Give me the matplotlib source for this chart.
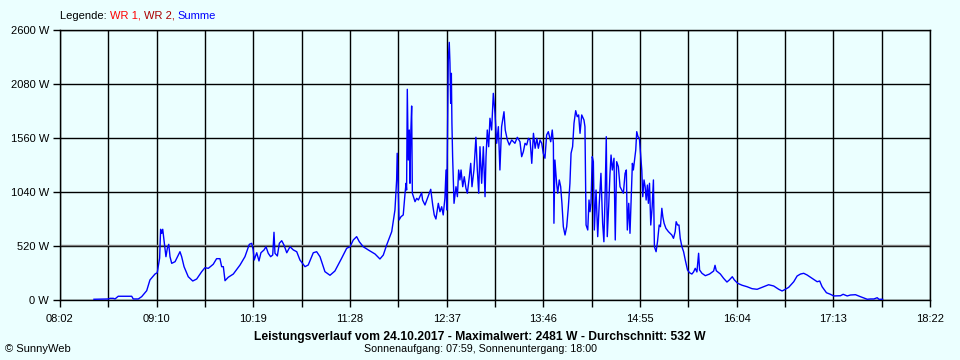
"""
plot.py
Daily power curve (SunnyWeb style) for 24.10.2017.
"""
import matplotlib
matplotlib.use("Agg")
from matplotlib import pyplot as plt

# time axis in minutes after midnight, power in W
minutes = [
    506.2, 516.4, 517.6, 520.0, 521.2, 523.5, 533.1, 534.2, 537.8, 540.2,
    543.8, 546.1, 549.7, 551.3, 553.0, 553.7, 554.5, 555.2, 556.1, 557.5,
    558.5, 559.5, 560.4, 561.6, 564.0, 567.5, 568.7, 570.4, 573.4, 576.6,
    579.4, 583.0, 585.3, 587.7, 591.2, 593.6, 596.0, 597.2, 598.4, 599.6,
    601.9, 605.5, 610.3, 613.8, 616.9, 618.6, 619.7, 620.4, 622.2, 623.8,
    625.2, 627.4, 628.8, 630.4, 632.1, 633.6, 634.5, 635.2, 636.9, 638.3,
    640.0, 641.6, 643.6, 645.9, 648.3, 650.7, 653.0, 656.6, 658.9, 662.5,
    664.9, 667.3, 670.8, 674.4, 677.9, 682.7, 686.3, 688.7, 691.0, 693.4,
    695.3, 698.1, 701.7, 706.5, 710.0, 712.4, 714.8, 718.4, 720.7, 721.9,
    722.3, 722.9, 723.6, 725.0, 726.6, 727.9, 728.6, 729.0, 729.5, 730.2,
    730.9, 731.4, 731.9, 732.6, 733.1, 735.0, 736.2, 737.4, 739.7, 740.4,
    742.1, 744.5, 746.2, 747.6, 748.7, 749.9, 751.6, 752.8, 754.0, 755.1,
    756.3, 757.1, 757.6, 758.3, 758.7, 759.4, 759.9, 760.4, 760.9, 761.3,
    761.8, 762.8, 764.2, 765.2, 766.1, 767.0, 767.8, 769.0, 770.1, 771.3,
    772.3, 773.7, 774.7, 775.6, 777.0, 778.4, 779.4, 780.4, 781.3, 782.5,
    783.7, 784.9, 785.6, 786.5, 787.5, 788.4, 789.6, 790.8, 792.0, 793.2,
    794.4, 795.5, 796.7, 798.4, 799.3, 800.8, 802.2, 803.9, 806.2, 807.9,
    809.8, 811.0, 812.2, 813.4, 814.6, 815.8, 817.0, 818.2, 819.4, 820.6,
    821.8, 822.9, 824.1, 825.3, 826.4, 827.6, 828.8, 830.0, 831.7, 832.8,
    833.6, 834.0, 834.7, 835.9, 836.7, 837.8, 838.8, 839.7, 840.7, 841.9,
    843.1, 844.2, 845.4, 846.2, 847.3, 848.3, 849.5, 850.6, 851.6, 852.6,
    853.8, 855.4, 856.1, 856.9, 858.1, 859.0, 859.7, 860.4, 861.3, 862.1,
    862.8, 864.0, 865.2, 866.3, 867.5, 868.7, 869.6, 870.6, 871.3, 872.0,
    873.0, 873.9, 874.7, 875.6, 876.8, 877.7, 878.7, 879.9, 881.1, 882.3,
    883.5, 884.7, 885.6, 886.3, 887.3, 888.2, 889.2, 889.9, 890.6, 891.3,
    892.3, 893.0, 893.9, 894.9, 895.9, 896.6, 897.3, 898.2, 899.0, 899.7,
    900.6, 901.3, 902.1, 903.0, 904.0, 904.9, 905.6, 906.8, 907.8, 909.0,
    909.9, 910.9, 911.6, 912.5, 913.8, 915.6, 916.8, 918.0, 919.2, 920.4,
    921.1, 922.1, 923.1, 924.0, 925.2, 926.4, 927.6, 929.2, 930.6, 932.3,
    933.5, 934.7, 935.9, 937.1, 937.8, 939.5, 941.9, 944.9, 947.8, 948.8,
    949.7, 952.6, 954.9, 957.3, 959.0, 961.1, 962.6, 964.9, 968.1, 971.6,
    975.2, 978.8, 982.3, 987.0, 990.6, 994.2, 996.6, 998.9, 1001.3, 1004.9,
    1007.3, 1009.7, 1012.0, 1014.4, 1018.0, 1021.6, 1023.4, 1025.1, 1028.2, 1031.0,
    1033.4, 1038.2, 1040.1, 1043.0, 1045.3, 1048.9, 1052.4, 1057.3, 1059.6, 1062.0,
    1064.4, 1065.6, 1068.2,
]
summe_w = [
    7, 10, 16, 16, 10, 36, 36, 10, 10, 32,
    90, 193, 250, 263, 404, 681, 642, 681, 578, 417,
    498, 536, 417, 353, 369, 465, 417, 321, 224, 183,
    202, 273, 311, 305, 344, 398, 398, 321, 321, 186,
    219, 250, 337, 417, 536, 546, 482, 385, 455, 376,
    455, 482, 513, 450, 417, 433, 652, 450, 424, 546,
    571, 530, 455, 513, 482, 465, 385, 321, 337, 455,
    465, 417, 273, 238, 279, 402, 498, 513, 578, 610,
    561, 513, 482, 443, 395, 433, 530, 658, 867, 1156,
    1413, 1156, 770, 802, 819, 1028, 1124, 1059, 2029, 1348,
    1637, 1124, 1573, 1868, 1028, 947, 979, 963, 1033, 963,
    915, 1002, 1066, 915, 819, 780, 931, 850, 898, 819,
    979, 1252, 867, 1765, 2311, 2481, 2280, 1894, 2183, 1702,
    1380, 931, 1091, 995, 1252, 1156, 1252, 1091, 1187, 1076,
    1028, 1187, 1316, 1091, 1252, 1567, 1252, 1028, 1476, 1124,
    1476, 995, 1380, 1637, 1476, 1750, 1637, 1990, 1798, 1509,
    1669, 1252, 1669, 1813, 1637, 1541, 1493, 1541, 1509, 1567,
    1524, 1380, 1428, 1509, 1493, 1557, 1541, 1316, 1605, 1461,
    1557, 1461, 1541, 1509, 1413, 1365, 1589, 1621, 1524, 1637,
    1509, 739, 1348, 1124, 1028, 1156, 1091, 931, 706, 626,
    706, 883, 1124, 1413, 1476, 1702, 1823, 1765, 1782, 1605,
    1782, 1733, 1669, 722, 674, 963, 850, 931, 1380, 1332,
    674, 1059, 610, 931, 1220, 739, 561, 1091, 1573, 610,
    898, 1204, 1396, 1252, 1365, 578, 1332, 1284, 1091, 1059,
    1028, 1220, 1252, 674, 931, 642, 1028, 1316, 1252, 1332,
    1444, 1621, 1573, 1557, 1380, 1252, 995, 1156, 1091, 963,
    1107, 931, 1124, 722, 898, 1156, 513, 465, 561, 722,
    706, 883, 802, 739, 690, 658, 642, 626, 594, 658,
    754, 722, 722, 594, 513, 465, 385, 289, 263, 250,
    270, 305, 270, 450, 289, 257, 234, 250, 279, 334,
    282, 250, 209, 173, 193, 224, 193, 161, 142, 128,
    109, 103, 122, 147, 135, 103, 87, 103, 122, 176,
    231, 250, 257, 241, 209, 176, 183, 128, 70, 55,
    39, 41, 55, 39, 48, 51, 32, 7, 10, 10,
    22, 7, 7,
]

x_labels = ["08:02", "09:10", "10:19", "11:28", "12:37",
            "13:46", "14:55", "16:04", "17:13", "18:22"]
y_ticks = [0, 520, 1040, 1560, 2080, 2600]

t_start = 482   # 08:02
t_end = 1102    # 18:22
max_w = 2481
avg_w = 532
day = "24.10.2017"
sunrise = "07:59"
sunset = "18:00"

BG = "#ebffff"
FONT = ["Liberation Sans", "DejaVu Sans"]


def plot_curve():
    """
    Draws the power curve with the SunnyWeb look and saves out.png.
    """
    plt.rcParams["font.family"] = FONT
    plt.rcParams["font.size"] = 8

    fig = plt.figure(figsize=(9.6, 3.6), dpi=100, facecolor=BG)
    ax = fig.add_axes([60 / 960, 60 / 360, 870 / 960, 270 / 360])
    ax.set_facecolor(BG)

    # grid: vertical lines every half label step, horizontal per y tick
    step = (t_end - t_start) / 18
    for k in range(19):
        ax.axvline(t_start + k * step, color="black", lw=1.0, zorder=1)
    for v in y_ticks:
        ax.axhline(v, color="black", lw=1.0, zorder=1)
    # average line sits just above the 520 W grid line
    ax.axhline(avg_w, color="#808080", lw=1.0, zorder=2)

    ax.plot(minutes, summe_w, color="#0000ff", lw=1.0, zorder=3)

    ax.set_xlim(t_start, t_end)
    ax.set_ylim(0, 2600)
    ax.set_xticks([t_start + k * step for k in range(19)])
    ax.set_xticklabels([x_labels[k // 2] if k % 2 == 0 else "" for k in range(19)])
    ax.set_yticks(y_ticks)
    ax.set_yticklabels([f"{v} W" for v in y_ticks])
    ax.tick_params(axis="both", length=5, width=1.0, color="black",
                   labelsize=8, pad=3)
    ax.tick_params(axis="x", pad=5)
    for spine in ax.spines.values():
        spine.set_color("black")
        spine.set_linewidth(1.0)

    # legend line at the top
    parts = [("Legende: ", "black"), ("WR 1, ", "#ff0000"),
             ("WR 2, ", "#aa0000"), ("Summe", "#0000ff")]
    x_pos = 60
    renderer = fig.canvas.get_renderer()
    for text, col in parts:
        t = fig.text(x_pos / 960, 1 - 16 / 360, text, color=col,
                     fontsize=8, va="center", ha="left")
        x_pos += t.get_window_extent(renderer).width

    fig.text(0.5, 1 - 337 / 360,
             f"Leistungsverlauf vom {day} - Maximalwert: {max_w} W - "
             f"Durchschnitt: {avg_w} W",
             ha="center", va="center", fontsize=8.7, fontweight="bold")
    fig.text(0.5, 1 - 349 / 360,
             f"Sonnenaufgang: {sunrise}, Sonnenuntergang: {sunset}",
             ha="center", va="center", fontsize=7.7)
    fig.text(5 / 960, 1 - 349 / 360, "\u00a9 SunnyWeb",
             ha="left", va="center", fontsize=8)

    fig.savefig("out.png", dpi=100, facecolor=BG)


if __name__ == '__main__':
    plot_curve()
